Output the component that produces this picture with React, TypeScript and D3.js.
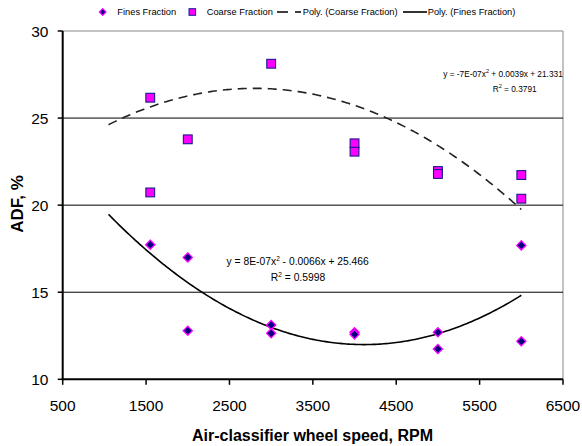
import React from "react";
import * as d3 from "d3";

const finesX = [1550, 2000, 2000, 3000, 3000, 4000, 4000, 5000, 5000, 6000, 6000];
const finesY = [17.73, 17.0, 12.79, 13.12, 12.64, 12.7, 12.58, 12.7, 11.74, 17.69, 12.18];
const coarseX = [1550, 1550, 2000, 3000, 4000, 4000, 5000, 5000, 6000, 6000];
const coarseY = [26.17, 20.73, 23.78, 28.12, 23.55, 23.07, 21.96, 21.79, 21.73, 20.37];
// trendline coefficients (unrounded estimates of the displayed equations)
const coarseCoef = [-6.8e-7, 0.00381, 21.37];
const finesCoef = [7.96e-7, -0.00655, 25.468];
const trendRange = [1050, 6000];
const xTicks = [500, 1500, 2500, 3500, 4500, 5500, 6500];
const yTicks = [10, 15, 20, 25, 30];

const FONT = "'Liberation Sans', Arial, sans-serif";

export default function App() {
  const W = 582, H = 446;
  const x = d3.scaleLinear().domain([500, 6500]).range([62.7, 563]);
  const y = d3.scaleLinear().domain([10, 30]).range([379.3, 31]);
  const poly = (c: number[]) => (v: number) => c[0] * v * v + c[1] * v + c[2];
  const xs = d3.range(trendRange[0], trendRange[1] + 1, 25);
  const coarseF = poly(coarseCoef);
  const finesF = poly(finesCoef);
  const coarsePath = d3.line<number>().x((d) => x(d)).y((d) => y(coarseF(d)))(xs) || "";
  const finesPath = d3.line<number>().x((d) => x(d)).y((d) => y(finesF(d)))(xs) || "";

  const diamond = (cx: number, cy: number, r: number) =>
    `M${cx},${cy - r}L${cx + r},${cy}L${cx},${cy + r}L${cx - r},${cy}Z`;

  const x0 = x(500), x1 = x(6500), yb = y(10), yt = y(30);

  return (
    <svg width={W} height={H} style={{ position: "absolute", left: 0, top: 0, background: "#fff" }} fontFamily={FONT}>
      <rect x={0} y={0} width={W} height={H} fill="#fff" />
      <line x1={x0} x2={x1} y1={yt} y2={yt} stroke="#888" strokeWidth={1} />
      <line x1={x1} x2={x1} y1={yt} y2={yb} stroke="#888" strokeWidth={1} />
      {yTicks.filter((t) => t !== 10 && t !== 30).map((t) => (
        <line key={t} x1={x0} x2={x1} y1={y(t)} y2={y(t)} stroke="#000" strokeWidth={1} />
      ))}
      <line x1={x0} x2={x0} y1={yt} y2={yb + 1} stroke="#000" strokeWidth={2} />
      <line x1={x0 - 1} x2={x1} y1={yb} y2={yb} stroke="#000" strokeWidth={2} />
      {yTicks.map((t) => (
        <g key={t}>
          <line x1={x0 - 5} x2={x0} y1={y(t)} y2={y(t)} stroke="#000" strokeWidth={1.5} />
          <text x={48.5} y={y(t)} dy="0.36em" textAnchor="end" fontSize={15.5} fill="#000">{t}</text>
        </g>
      ))}
      {xTicks.map((t) => (
        <g key={t}>
          <line x1={x(t)} x2={x(t)} y1={yb} y2={yb + 5.5} stroke="#000" strokeWidth={1.5} />
          <text x={x(t)} y={411} textAnchor="middle" fontSize={15.5} fill="#000">{t}</text>
        </g>
      ))}
      <text x={312.5} y={441} textAnchor="middle" fontSize={16} fontWeight="bold">Air-classifier wheel speed, RPM</text>
      <text transform="translate(22.5,204) rotate(-90)" textAnchor="middle" fontSize={17} fontWeight="bold">ADF, %</text>

      <path d={coarsePath} fill="none" stroke="#222" strokeWidth={1.6} strokeDasharray="9,6" />
      <path d={finesPath} fill="none" stroke="#000" strokeWidth={1.6} />

      {coarseX.map((v, i) => (
        <rect key={"c" + i} x={x(v) - 4.4} y={y(coarseY[i]) - 4.4} width={8.8} height={8.8} fill="#FF00FF" stroke="#1a1a8c" strokeWidth={1.1} />
      ))}
      {finesX.map((v, i) => (
        <path key={"f" + i} d={diamond(x(v), y(finesY[i]), 4.6)} fill="#000080" stroke="#FF00FF" strokeWidth={1.3} />
      ))}

      <text x={503} y={76.5} textAnchor="middle" fontSize={8.3}>
        y = -7E-07x<tspan dy={-3.5} fontSize={5.5}>2</tspan><tspan dy={3.5}> + 0.0039x + 21.331</tspan>
      </text>
      <text x={514.7} y={91.5} textAnchor="middle" fontSize={8.3}>
        R<tspan dy={-3.5} fontSize={5.5}>2</tspan><tspan dy={3.5}> = 0.3791</tspan>
      </text>
      <text x={297.7} y={264.5} textAnchor="middle" fontSize={10.3}>
        y = 8E-07x<tspan dy={-4} fontSize={6.5}>2</tspan><tspan dy={4}> - 0.0066x + 25.466</tspan>
      </text>
      <text x={298} y={280.5} textAnchor="middle" fontSize={10.3}>
        R<tspan dy={-4} fontSize={6.5}>2</tspan><tspan dy={4}> = 0.5998</tspan>
      </text>

      <g fontSize={9.3}>
        <path d={diamond(102.7, 12, 3.3)} fill="#000080" stroke="#FF00FF" strokeWidth={1.2} />
        <text x={117.3} y={15.2}>Fines Fraction</text>
        <rect x={189} y={8.7} width={6.6} height={6.6} fill="#FF00FF" stroke="#1a1a8c" strokeWidth={1} />
        <text x={206.7} y={15.2}>Coarse Fraction</text>
        <line x1={277} x2={301} y1={12} y2={12} stroke="#000" strokeWidth={1.6} strokeDasharray="11,7" />
        <text x={302.7} y={15.2}>Poly. (Coarse Fraction)</text>
        <line x1={403} x2={427} y1={12} y2={12} stroke="#000" strokeWidth={1.6} />
        <text x={427.7} y={15.2}>Poly. (Fines Fraction)</text>
      </g>
    </svg>
  );
}
